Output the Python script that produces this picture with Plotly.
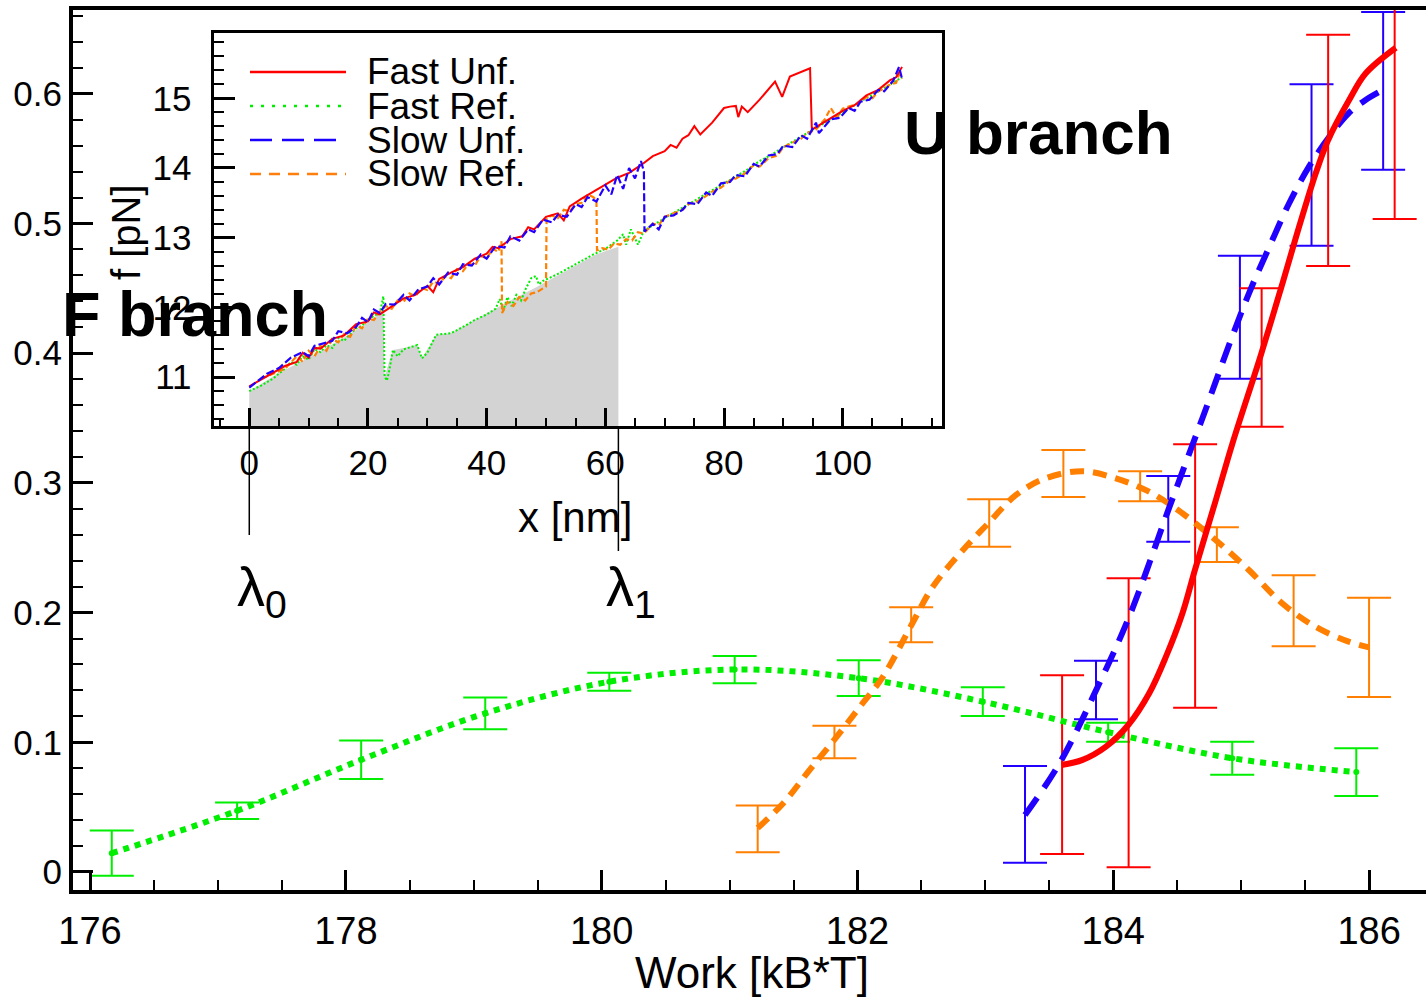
import plotly.graph_objects as go

W, H = 1426, 998
FONT = "Liberation Sans, Arial, sans-serif"

# ---------------- main panel data ----------------
green_x = [176.17, 177.15, 178.12, 179.09, 180.06, 181.04, 182.01, 182.98, 183.96, 184.93, 185.90]
green_y = [0.0145, 0.0472, 0.0865, 0.1223, 0.1467, 0.1561, 0.1494, 0.1313, 0.1078, 0.0877, 0.0770]
green_e = [0.0175, 0.0063, 0.0148, 0.0123, 0.0069, 0.0105, 0.0138, 0.0111, 0.0073, 0.0128, 0.0184]

orange_x = [181.22, 181.82, 182.42, 183.03, 183.61, 184.21, 184.81, 185.41, 186.00]
orange_y = [0.0332, 0.1002, 0.1906, 0.2691, 0.3072, 0.2974, 0.2524, 0.2014, 0.1732]
orange_e = [0.018, 0.0126, 0.0135, 0.0183, 0.0181, 0.0116, 0.0134, 0.0274, 0.0383]

blue_x = [183.31, 183.865, 184.43, 184.99, 185.55, 186.11]
blue_y = [0.0445, 0.1403, 0.28, 0.4277, 0.5451, 0.6022]
blue_e = [0.0373, 0.0226, 0.0253, 0.0475, 0.0622, 0.0608]

red_x = [183.60, 184.12, 184.64, 185.16, 185.68, 186.20]
red_y = [0.0827, 0.115, 0.2282, 0.3967, 0.5564, 0.6355]
red_e = [0.0689, 0.1114, 0.1015, 0.0534, 0.0892, 0.132]

# smooth fitted curves
orange_fit_x = [181.22, 181.42, 181.625, 181.82, 182.02, 182.2, 182.42, 182.59, 182.85, 183.01,
                183.24, 183.47, 183.76, 184.02, 184.28, 184.54, 184.80, 185.06, 185.32, 185.58,
                185.84, 186.0]
orange_fit_y = [0.0339, 0.053, 0.0786, 0.102, 0.1275, 0.1506, 0.190, 0.22, 0.251, 0.2675,
                0.2907, 0.3035, 0.309, 0.3035, 0.2932, 0.2766, 0.256, 0.2328, 0.2072, 0.1891,
                0.1776, 0.1732]

blue_fit_x = [183.31, 183.58, 183.865, 184.125, 184.43, 184.55, 184.72, 184.91, 185.06, 185.22,
              185.375, 185.53, 185.69, 185.84, 185.97, 186.11]
blue_fit_y = [0.044, 0.0838, 0.140, 0.197, 0.279, 0.311, 0.356, 0.4076, 0.446, 0.482,
              0.5156, 0.5438, 0.567, 0.585, 0.595, 0.603]

red_fit_x = [183.596, 183.76, 183.943, 184.117, 184.281, 184.412, 184.541, 184.638, 184.802,
             184.932, 185.158, 185.323, 185.453, 185.583, 185.68, 185.844, 185.974, 186.209]
red_fit_y = [0.0825, 0.0864, 0.0966, 0.1133, 0.1378, 0.166, 0.1995, 0.2328, 0.2868,
             0.3305, 0.3999, 0.4539, 0.4975, 0.5387, 0.5644, 0.5952, 0.6158, 0.6355]

x_ticks = [176, 178, 180, 182, 184, 186]
y_ticks = [0, 0.1, 0.2, 0.3, 0.4, 0.5, 0.6]
y_ticktext = ["0", "0.1", "0.2", "0.3", "0.4", "0.5", "0.6"]

# ---------------- inset data (force vs extension) ----------------
in_red_x = [0, 2, 4, 6, 8, 9, 10, 11, 12, 14, 16, 18, 20, 21, 22, 24, 26, 28, 30, 31, 32, 34, 36,
            38, 40, 41, 42, 44, 46, 47, 48, 50, 52, 53, 54, 56, 58, 60, 62, 64, 66, 68, 70, 71,
            72, 73, 74, 75, 76, 78, 80, 81, 82, 82.4, 83, 84, 86, 88.6, 89.8, 91.1, 94.5, 94.8,
            97, 100, 102, 104, 106, 108, 109, 110]
in_red_f = [10.87, 10.97, 11.06, 11.16, 11.22, 11.35, 11.28, 11.42, 11.41, 11.55, 11.60, 11.76,
            11.80, 11.93, 11.90, 12.02, 12.13, 12.18, 12.31, 12.22, 12.41, 12.50, 12.58, 12.70,
            12.77, 12.87, 12.85, 12.98, 13.02, 13.15, 13.12, 13.30, 13.35, 13.25, 13.45, 13.56,
            13.66, 13.76, 13.86, 13.93, 14.04, 14.17, 14.24, 14.33, 14.29, 14.42, 14.47, 14.60,
            14.48, 14.65, 14.86, 14.88, 14.89, 14.73, 14.88, 14.80, 14.98, 15.24, 15.02, 15.31,
            15.43, 14.55, 14.66, 14.82, 14.90, 15.04, 15.12, 15.26, 15.30, 15.45]

in_blue_x = [0, 3, 5, 7, 9, 10, 11, 12.5, 14, 15, 16.5, 18, 19, 20, 21, 22, 23, 24.5, 26, 27,
             28.5, 30, 31, 32, 33.5, 35, 36, 37.5, 39, 40, 41.5, 43, 44, 45.5, 47, 48, 49.5, 51,
             52, 53.5, 55, 56, 57, 58.5, 60, 61, 62, 63, 64, 65, 66, 66.5, 66.6, 68, 69, 70,
             71.5, 73, 74, 75.5, 77, 78, 79.5, 81, 82, 83.5, 85, 86, 87.5, 89, 90, 91.5, 93,
             94, 95.5, 96, 97, 98, 99.5, 101, 102, 103, 104.5, 106, 107, 108.5, 109.5, 110]
in_blue_f = [10.85, 11.05, 11.13, 11.28, 11.36, 11.30, 11.45, 11.48, 11.52, 11.66, 11.63, 11.72,
             11.85, 11.79, 11.97, 11.92, 12.05, 12.04, 12.18, 12.10, 12.26, 12.30, 12.42, 12.33,
             12.50, 12.47, 12.62, 12.60, 12.76, 12.70, 12.88, 12.86, 13.02, 12.96, 13.12, 13.08,
             13.26, 13.22, 13.33, 13.30, 13.48, 13.44, 13.58, 13.52, 13.75, 13.62, 13.90, 13.70,
             14.00, 13.85, 14.10, 13.95, 13.09, 13.20, 13.12, 13.30, 13.32, 13.40, 13.50, 13.48,
             13.65, 13.60, 13.78, 13.80, 13.90, 13.88, 14.06, 14.02, 14.18, 14.20, 14.32, 14.30,
             14.47, 14.42, 14.65, 14.50, 14.60, 14.70, 14.72, 14.86, 14.82, 14.95, 14.98, 15.12,
             15.10, 15.25, 15.45, 15.28]

in_orange_x = [2, 6, 8, 9, 10, 11, 12, 13, 14, 15, 16, 17, 18, 19, 20, 21, 22, 23, 24, 25, 26,
               27, 28, 29, 30, 31, 32, 33, 34, 35, 36, 37, 38, 39, 40, 41, 42, 42.5, 42.6, 43.5,
               44.5, 45.5, 46.5, 47.5, 48.5, 49.5, 50, 50.1, 51, 52, 53, 54, 55, 56, 57, 58,
               58.5, 58.6, 59.5, 60.5, 61.5, 62.5, 63.5, 64.5, 65.5, 66.5, 68, 69, 70, 71.5,
               73, 74, 75.5, 77, 78, 79.5, 81, 82, 83.5, 85, 86, 87.5, 89, 90, 91.5, 93, 94,
               95.5, 97, 98, 99, 100, 101, 102.5, 104, 105, 106, 107, 108, 109, 109.5, 110]
in_orange_f = [10.98, 11.12, 11.30, 11.22, 11.38, 11.30, 11.45, 11.38, 11.55, 11.50, 11.62,
               11.58, 11.74, 11.70, 11.84, 11.82, 11.94, 12.02, 11.98, 12.10, 12.08, 12.20,
               12.16, 12.28, 12.25, 12.37, 12.34, 12.44, 12.42, 12.55, 12.52, 12.63, 12.60,
               12.74, 12.70, 12.84, 12.80, 12.95, 11.92, 12.08, 12.02, 12.15, 12.10, 12.20,
               12.22, 12.28, 12.30, 13.28, 13.32, 13.28, 13.40, 13.38, 13.48, 13.50, 13.62,
               13.58, 13.54, 12.82, 12.85, 12.83, 12.92, 12.90, 12.98, 12.96, 13.08, 13.06,
               13.20, 13.18, 13.30, 13.35, 13.40, 13.48, 13.52, 13.60, 13.66, 13.72, 13.82,
               13.85, 13.92, 14.04, 14.02, 14.14, 14.18, 14.30, 14.36, 14.42, 14.50, 14.55,
               14.70, 14.86, 14.72, 14.85, 14.88, 14.92, 15.02, 15.00, 15.10, 15.14, 15.20,
               15.22, 15.35, 15.28]

in_green_x = [0, 2, 4, 6, 7, 8, 9, 10, 11, 12, 13, 14, 15, 16, 17, 18, 19, 20, 21, 22, 22.6,
              22.8, 23.2, 23.6, 24.2, 25, 26, 28.3, 29.1, 30, 31.5, 34, 36, 38, 40, 41.5, 42.2,
              42.8, 43.5, 44.2, 45, 45.8, 46.5, 47.5, 48.3, 48.8, 49.5, 52, 55, 58, 60, 61, 62,
              63, 63.5, 64.3, 65, 65.5, 66.5, 68, 70, 72, 74, 76, 78, 80, 82, 84, 86, 88, 90,
              92, 94, 96, 98, 100, 102, 104, 106, 108, 110]
in_green_f = [10.80, 10.88, 10.98, 11.12, 11.22, 11.18, 11.30, 11.25, 11.40, 11.36, 11.46, 11.42,
              11.56, 11.52, 11.62, 11.70, 11.74, 11.82, 11.88, 11.92, 12.16, 11.01, 10.95, 11.10,
              11.39, 11.30, 11.40, 11.46, 11.27, 11.35, 11.61, 11.63, 11.72, 11.82, 11.90, 11.98,
              12.12, 11.95, 12.15, 12.02, 12.18, 12.10, 12.25, 12.42, 12.45, 12.33, 12.38, 12.48,
              12.62, 12.76, 12.84, 12.90, 12.96, 13.05, 12.90, 13.12, 13.00, 12.90, 13.10, 13.18,
              13.28, 13.38, 13.48, 13.58, 13.68, 13.79, 13.88, 13.98, 14.10, 14.19, 14.30, 14.40,
              14.50, 14.60, 14.70, 14.80, 14.90, 15.00, 15.10, 15.20, 15.30]

# shaded work area under the refolding curve between lambda0 and lambda1
shade_x = [0, 5, 10, 15, 20, 22.6, 22.8, 24.2, 26, 28.3, 29.1, 31.5, 34, 38, 42.9, 48.6, 52, 55,
           58.4, 62.2]
shade_f = [10.80, 11.06, 11.28, 11.52, 11.78, 11.96, 11.01, 11.39, 11.42, 11.46, 11.27, 11.61,
           11.63, 11.82, 12.05, 12.30, 12.46, 12.60, 12.76, 12.87]

lambda_pos = [0, 62.2]
lambda_text = ["λ<sub>0</sub>", "λ<sub>1</sub>"]

legend_names = ["Fast Unf.", "Fast Ref.", "Slow Unf.", "Slow Ref."]
legend_colors = ["#ff0000", "#00ee00", "#1a00ff", "#ff7f0e"]
legend_dash = ["solid", "3px,8px", "22px,10px", "11px,8px"]

RED, GREEN, BLUE, ORANGE = "#ff0000", "#00ee00", "#2200ff", "#ff7f00"

# ---------------- figure ----------------
fig = go.Figure()


def px2x(p):
    return p / W


def px2y(p):
    return (H - p) / H


# inset traces
fig.add_trace(go.Scatter(x=shade_x, y=shade_f, mode="lines", fill="tozeroy",
                         fillcolor="#d3d3d3", line=dict(width=0, color="#d3d3d3"),
                         xaxis="x2", yaxis="y2", hoverinfo="skip"))
fig.add_trace(go.Scatter(x=in_green_x, y=in_green_f, mode="lines",
                         line=dict(color=GREEN, width=2, dash="2px,2px"), xaxis="x2", yaxis="y2"))
fig.add_trace(go.Scatter(x=in_orange_x, y=in_orange_f, mode="lines",
                         line=dict(color=ORANGE, width=2.2, dash="6px,3px"), xaxis="x2", yaxis="y2"))
fig.add_trace(go.Scatter(x=in_red_x, y=in_red_f, mode="lines",
                         line=dict(color=RED, width=2), xaxis="x2", yaxis="y2"))
fig.add_trace(go.Scatter(x=in_blue_x, y=in_blue_f, mode="lines",
                         line=dict(color=BLUE, width=2.2, dash="8px,3px"), xaxis="x2", yaxis="y2"))

# main error bars
for xs, ys, es, col, msize in [(green_x, green_y, green_e, GREEN, 6),
                               (orange_x, orange_y, orange_e, ORANGE, 1),
                               (blue_x, blue_y, blue_e, BLUE, 1),
                               (red_x, red_y, red_e, RED, 1)]:
    fig.add_trace(go.Scatter(x=xs, y=ys, mode="markers",
                             marker=dict(size=msize, color=col),
                             error_y=dict(type="data", array=es, color=col, thickness=2, width=22),
                             xaxis="x", yaxis="y"))

# main curves
fig.add_trace(go.Scatter(x=green_x, y=green_y, mode="lines", line_shape="spline",
                         line=dict(color=GREEN, width=6, dash="6px,6px")))
fig.add_trace(go.Scatter(x=orange_fit_x, y=orange_fit_y, mode="lines", line_shape="spline",
                         line=dict(color=ORANGE, width=6, dash="14px,9px")))
fig.add_trace(go.Scatter(x=blue_fit_x, y=blue_fit_y, mode="lines", line_shape="spline",
                         line=dict(color=BLUE, width=6, dash="21px,12px")))
fig.add_trace(go.Scatter(x=red_fit_x, y=red_fit_y, mode="lines", line_shape="spline",
                         line=dict(color=RED, width=6)))

tickfont_main_x = dict(family=FONT, size=38, color="black")
tickfont_main_y = dict(family=FONT, size=35, color="black")
tickfont_in = dict(family=FONT, size=35, color="black")

fig.update_layout(
    width=W, height=H,
    margin=dict(l=0, r=0, t=0, b=0, autoexpand=False),
    paper_bgcolor="white", plot_bgcolor="white",
    showlegend=False,
    xaxis=dict(domain=[73 / W, 1.0], range=[175.867, 186.445], automargin=False,
               tickmode="array", tickvals=x_ticks, ticks="inside", ticklen=20, tickwidth=3,
               tickcolor="black", showline=True, linewidth=4, linecolor="black", mirror=True,
               showgrid=False, zeroline=False, tickfont=tickfont_main_x, ticklabelstandoff=4,
               minor=dict(dtick=0.5, tick0=176, ticks="inside", ticklen=10, tickwidth=2,
                          tickcolor="black", showgrid=False)),
    yaxis=dict(domain=[108 / H, 988 / H], range=[-0.0139, 0.6646], automargin=False,
               tickmode="array", tickvals=y_ticks, ticktext=y_ticktext,
               ticks="inside", ticklen=20, tickwidth=3, tickcolor="black",
               showline=True, linewidth=4, linecolor="black", mirror=False,
               showgrid=False, zeroline=False, tickfont=tickfont_main_y, ticklabelstandoff=0,
               minor=dict(dtick=0.02, tick0=0, ticks="inside", ticklen=10, tickwidth=2,
                          tickcolor="black", showgrid=False)),
    xaxis2=dict(domain=[213.5 / W, 941.5 / W], range=[-6.03, 116.65], anchor="y2",
                automargin=False,
                tickmode="array", tickvals=[0, 20, 40, 60, 80, 100], ticks="inside", ticklen=18,
                tickwidth=3, tickcolor="black", showline=True, linewidth=3, linecolor="black",
                mirror=True, showgrid=False, zeroline=False, tickfont=tickfont_in,
                ticklabelstandoff=4,
                minor=dict(dtick=5, tick0=0, ticks="inside", ticklen=8, tickwidth=2,
                           tickcolor="black", showgrid=False)),
    yaxis2=dict(domain=[(H - 426) / H, (H - 32.7) / H], range=[10.30, 15.94], anchor="x2",
                automargin=False,
                tickmode="array", tickvals=[11, 12, 13, 14, 15], ticks="inside", ticklen=21,
                tickwidth=3, tickcolor="black", showline=True, linewidth=3, linecolor="black",
                mirror=True, showgrid=False, zeroline=False, tickfont=tickfont_in,
                ticklabelstandoff=12,
                minor=dict(dtick=0.2, tick0=11, ticks="inside", ticklen=10, tickwidth=2,
                           tickcolor="black", showgrid=False)),
)

shapes = []
# lambda markers
for lp, yend in zip(lambda_pos, [535, 551]):
    shapes.append(dict(type="line", xref="x2", yref="paper", x0=lp, x1=lp,
                       y0=px2y(426), y1=px2y(yend), line=dict(color="black", width=1.5)))
# inset legend samples
rows = [72, 106, 140, 174]
for r, c, d in zip(rows, legend_colors, legend_dash):
    shapes.append(dict(type="line", xref="paper", yref="paper", x0=px2x(250), x1=px2x(346),
                       y0=px2y(r), y1=px2y(r), line=dict(color=c, width=2.5, dash=d)))
fig.update_layout(shapes=shapes)

ann = []
for r, name in zip(rows, legend_names):
    ann.append(dict(xref="paper", yref="paper", x=px2x(365), y=px2y(r), text=name,
                    showarrow=False, xanchor="left", yanchor="middle",
                    font=dict(family=FONT, size=37, color="black")))
for lp, t in zip(lambda_pos, lambda_text):
    ann.append(dict(xref="x2", yref="paper", x=lp, y=px2y(590), text=t, showarrow=False,
                    xanchor="left", yanchor="middle", xshift=-14,
                    font=dict(family=FONT, size=56, color="black")))
ann.append(dict(xref="paper", yref="paper", x=px2x(752), y=px2y(972), text="Work [kB*T]",
                showarrow=False, xanchor="center", yanchor="middle",
                font=dict(family=FONT, size=44, color="black")))
ann.append(dict(xref="paper", yref="paper", x=px2x(575), y=px2y(517), text="x [nm]",
                showarrow=False, xanchor="center", yanchor="middle",
                font=dict(family=FONT, size=42, color="black")))
ann.append(dict(xref="paper", yref="paper", x=px2x(126), y=px2y(232), text="f [pN]",
                showarrow=False, xanchor="center", yanchor="middle", textangle=-90,
                font=dict(family=FONT, size=40, color="black")))
ann.append(dict(xref="paper", yref="paper", x=px2x(60), y=px2y(314), text="<b>F branch</b>",
                showarrow=False, xanchor="left", yanchor="middle",
                font=dict(family=FONT, size=63, color="black")))
ann.append(dict(xref="paper", yref="paper", x=px2x(902), y=px2y(133), text="<b>U branch</b>",
                showarrow=False, xanchor="left", yanchor="middle",
                font=dict(family=FONT, size=62, color="black")))
fig.update_layout(annotations=ann)

fig.write_html("out.html")
